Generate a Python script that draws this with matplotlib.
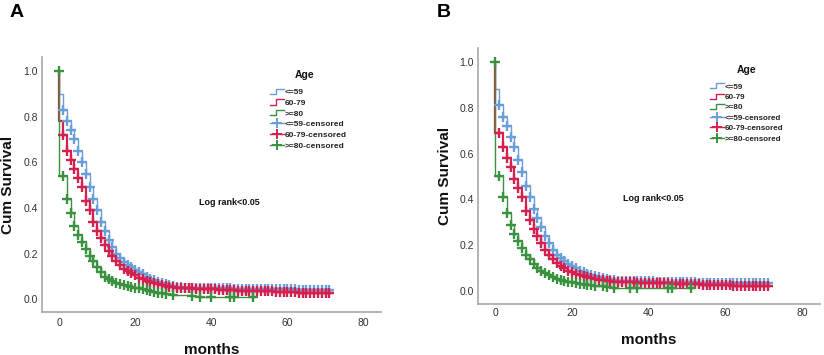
import numpy as np
import matplotlib
matplotlib.use("Agg")
import matplotlib.pyplot as plt
from matplotlib.lines import Line2D
from matplotlib.legend_handler import HandlerBase

plt.rcParams['font.family'] = ['Liberation Sans', 'DejaVu Sans']

# ---------------- data ----------------
months = list(range(0, 72))

# Panel A
a_le59 = [0.90, 0.83, 0.78, 0.74, 0.70, 0.65, 0.60, 0.55, 0.49, 0.44,
          0.39, 0.34, 0.30, 0.26, 0.23, 0.20, 0.18, 0.165, 0.15, 0.14,
          0.13, 0.12, 0.11, 0.10, 0.09, 0.083, 0.077, 0.071, 0.066, 0.062,
          0.058, 0.055, 0.053, 0.051, 0.050, 0.050, 0.050, 0.050, 0.049, 0.049,
          0.049, 0.049, 0.048, 0.048, 0.048, 0.048, 0.046, 0.046, 0.046, 0.046,
          0.045, 0.045, 0.045, 0.045, 0.045, 0.045, 0.044, 0.044, 0.044, 0.044,
          0.044, 0.044, 0.044, 0.043, 0.043, 0.043, 0.043, 0.043, 0.043, 0.043,
          0.043, 0.043]
a_6079 = [0.78, 0.72, 0.65, 0.61, 0.57, 0.53, 0.49, 0.43, 0.39, 0.34,
          0.30, 0.27, 0.24, 0.21, 0.19, 0.17, 0.15, 0.135, 0.125, 0.115,
          0.105, 0.095, 0.088, 0.080, 0.075, 0.070, 0.066, 0.062, 0.059, 0.056,
          0.054, 0.052, 0.050, 0.049, 0.048, 0.048, 0.047, 0.047, 0.046, 0.046,
          0.045, 0.044, 0.043, 0.042, 0.041, 0.040, 0.040, 0.039, 0.039, 0.038,
          0.038, 0.037, 0.037, 0.036, 0.036, 0.035, 0.035, 0.034, 0.034, 0.033,
          0.033, 0.032, 0.031, 0.030, 0.029, 0.028, 0.028, 0.028, 0.028, 0.028,
          0.028, 0.028]
a_ge80_t = [0, 1, 2, 3, 4, 5, 6, 7, 8, 9, 10, 11, 12, 13, 14, 15, 16, 17, 18,
            19, 20, 21, 22, 23, 24, 25, 26, 27, 28, 30, 35, 37, 40, 45, 46, 51]
a_ge80 = [0.54, 0.54, 0.44, 0.38, 0.32, 0.28, 0.25, 0.22, 0.19, 0.17,
          0.14, 0.12, 0.10, 0.09, 0.08, 0.072, 0.066, 0.062, 0.058, 0.055,
          0.052, 0.048, 0.044, 0.040, 0.036, 0.033, 0.030, 0.027, 0.024, 0.020,
          0.015, 0.013, 0.013, 0.013, 0.013, 0.013]

# Panel B
b_le59 = [0.88, 0.81, 0.76, 0.72, 0.67, 0.63, 0.57, 0.52, 0.46, 0.41,
          0.36, 0.32, 0.28, 0.24, 0.21, 0.18, 0.16, 0.145, 0.13, 0.12,
          0.11, 0.10, 0.09, 0.083, 0.076, 0.070, 0.065, 0.060, 0.056, 0.053,
          0.050, 0.048, 0.046, 0.046, 0.045, 0.045, 0.044, 0.044, 0.044, 0.043,
          0.043, 0.043, 0.042, 0.042, 0.042, 0.042, 0.040, 0.040, 0.040, 0.040,
          0.039, 0.039, 0.039, 0.038, 0.038, 0.038, 0.038, 0.037, 0.037, 0.037,
          0.037, 0.036, 0.036, 0.036, 0.036, 0.035, 0.035, 0.035, 0.035, 0.035,
          0.035, 0.035]
b_6079 = [0.69, 0.69, 0.63, 0.58, 0.54, 0.49, 0.45, 0.41, 0.35, 0.31,
          0.27, 0.24, 0.21, 0.18, 0.16, 0.14, 0.125, 0.11, 0.10, 0.09,
          0.083, 0.077, 0.070, 0.065, 0.060, 0.056, 0.052, 0.049, 0.047, 0.045,
          0.043, 0.042, 0.041, 0.040, 0.040, 0.039, 0.039, 0.038, 0.038, 0.037,
          0.037, 0.037, 0.036, 0.036, 0.036, 0.036, 0.033, 0.033, 0.032, 0.032,
          0.031, 0.031, 0.030, 0.030, 0.029, 0.029, 0.028, 0.028, 0.027, 0.027,
          0.026, 0.026, 0.025, 0.025, 0.025, 0.024, 0.024, 0.024, 0.024, 0.024,
          0.024, 0.024]
b_ge80_t = [0, 1, 2, 3, 4, 5, 6, 7, 8, 9, 10, 11, 12, 13, 14, 15, 16, 17, 18,
            19, 20, 21, 22, 23, 24, 25, 26, 28, 29, 31, 35, 37, 45, 46, 51]
b_ge80 = [0.50, 0.50, 0.41, 0.34, 0.29, 0.25, 0.22, 0.19, 0.16, 0.14,
          0.12, 0.10, 0.09, 0.08, 0.07, 0.062, 0.055, 0.050, 0.045, 0.042,
          0.040, 0.036, 0.033, 0.030, 0.028, 0.026, 0.024, 0.022, 0.018, 0.016,
          0.013, 0.013, 0.012, 0.012, 0.012]

group_labels = ['<=59', '60-79', '>=80']
x_ticks = [0, 20, 40, 60, 80]
y_ticks = [0.0, 0.2, 0.4, 0.6, 0.8, 1.0]

colors = ['#6a9edb', '#d4204e', '#3a9140']
line_w = [1.0, 1.6, 1.0]

# ---------------- helpers ----------------
class StepHandler(HandlerBase):
    def create_artists(self, legend, orig_handle, xdescent, ydescent,
                       width, height, fontsize, trans):
        x0 = -xdescent
        y0 = -ydescent
        xs = [x0, x0 + width * 0.45, x0 + width * 0.45, x0 + width]
        ys = [y0 + height * 0.1, y0 + height * 0.1, y0 + height * 0.9, y0 + height * 0.9]
        ln = Line2D(xs, ys, color=orig_handle.get_color(), lw=1.0)
        ln.set_transform(trans)
        return [ln]


def km(ax, t, s, color, lw):
    t = list(t)
    s = list(s)
    xs = [t[0]] + t + [t[-1] + 0.6]
    ys = [1.0] + s + [s[-1]]
    ax.step(xs, ys, where='post', color=color, lw=lw, zorder=2)
    ax.plot(t[1:], s[1:], ls='none', marker='+', ms=6.5, mew=1.7,
            color=color, zorder=3)


def panel(fig, rect, letter, letter_xy, series, legend_anchor, title_xy,
          leg_fs, logrank_xy, ylabel_x, xlabel_y, xpad):
    ax = fig.add_axes(rect)
    for (t, s), c, w in zip(series, colors, line_w):
        km(ax, t, s, c, w)
    ax.plot([series[2][0][0]], [1.0], ls='none', marker='+', ms=6.5, mew=1.7,
            color=colors[2], zorder=3)
    ax.set_xlim(-4.5, 84.5)
    ax.set_ylim(-0.055, 1.06)
    ax.set_xticks(x_ticks)
    ax.set_yticks(y_ticks)
    ax.set_yticklabels([f"{v:.1f}" for v in y_ticks])
    ax.tick_params(length=0, labelsize=7.5, colors='#333333')
    ax.tick_params(axis='y', pad=3)
    ax.tick_params(axis='x', pad=xpad)
    for sp in ['top', 'right']:
        ax.spines[sp].set_visible(False)
    for sp in ['left', 'bottom']:
        ax.spines[sp].set_color('#a8a8a8')
        ax.spines[sp].set_linewidth(1.2)
    ax.set_ylabel('Cum Survival', fontsize=11, fontweight='bold', color='#111111')
    ax.yaxis.set_label_coords(ylabel_x, 0.5)
    ax.set_xlabel('months', fontsize=11, fontweight='bold', color='#111111')
    ax.xaxis.set_label_coords(0.5, xlabel_y)
    ax.text(logrank_xy[0], logrank_xy[1], 'Log rank<0.05', transform=ax.transAxes,
            fontsize=6.5, fontweight='bold', ha='center', va='center', color='#111111')
    fig.text(letter_xy[0], letter_xy[1], letter, fontsize=14, fontweight='bold',
             ha='left', va='top')
    ax.text(title_xy[0], title_xy[1], 'Age', transform=ax.transAxes,
            fontsize=7.5, fontweight='bold', ha='center', va='center', color='#111111')

    step_h = [Line2D([], [], color=c) for c in colors]
    cens_h = [Line2D([], [], color=c, marker='+', ms=7, mew=1.4, lw=1.0) for c in colors]
    labels = group_labels + [g + '-censored' for g in group_labels]
    hmap = {h: StepHandler() for h in step_h}
    leg = ax.legend(step_h + cens_h, labels, loc='upper left',
                    bbox_to_anchor=legend_anchor, frameon=False,
                    fontsize=leg_fs, handlelength=1.7, handleheight=0.8,
                    handletextpad=0.1, labelspacing=0.32, borderpad=0,
                    handler_map=hmap)
    for txt in leg.get_texts():
        txt.set_fontweight('bold')
        txt.set_color('#222222')
    return ax


fig = plt.figure(figsize=(8.24, 3.55), dpi=100)

panel(fig, [0.051, 0.121, 0.411, 0.718], 'A', (0.012, 0.99),
      [(months, a_le59), (months, a_6079), (a_ge80_t, a_ge80)],
      (0.66, 0.895), (0.775, 0.93), 6.0, (0.552, 0.431), -0.08, -0.12, 4)
panel(fig, [0.580, 0.144, 0.415, 0.721], 'B', (0.530, 0.99),
      [(months, b_le59), (months, b_6079), (b_ge80_t, b_ge80)],
      (0.667, 0.88), (0.785, 0.912), 5.8, (0.512, 0.41), -0.076, -0.115, 3)

fig.savefig('out.png', dpi=100)
